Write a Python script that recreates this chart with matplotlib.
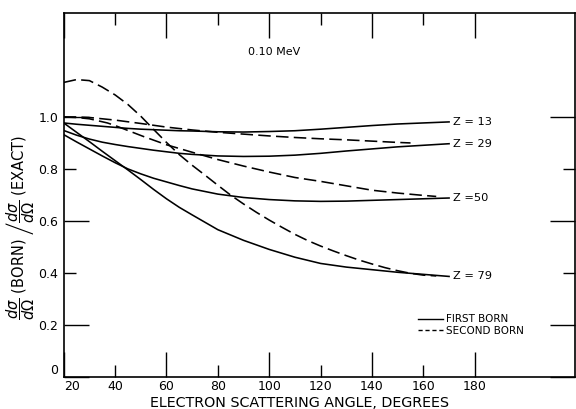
import matplotlib
matplotlib.use("Agg")
import matplotlib.pyplot as plt
from matplotlib.lines import Line2D

plt.rcParams['font.family'] = ['DejaVu Sans']
plt.rcParams['lines.scale_dashes'] = False

# First Born approximation / exact cross section ratios, 0.10 MeV electrons
angle_first = [20, 25, 30, 35, 40, 45, 50, 55, 60, 65, 70, 80, 90, 100, 110,
               120, 130, 140, 150, 160, 170]
first_z13 = [0.977, 0.972, 0.968, 0.964, 0.960, 0.956, 0.953, 0.951, 0.949,
             0.947, 0.946, 0.943, 0.942, 0.944, 0.947, 0.953, 0.960, 0.967,
             0.973, 0.977, 0.981]
first_z29 = [0.948, 0.930, 0.915, 0.903, 0.894, 0.886, 0.879, 0.872, 0.866,
             0.860, 0.856, 0.850, 0.848, 0.849, 0.853, 0.860, 0.869, 0.877,
             0.885, 0.891, 0.897]
first_z50 = [0.932, 0.904, 0.877, 0.850, 0.824, 0.800, 0.781, 0.764, 0.750,
             0.736, 0.723, 0.703, 0.690, 0.682, 0.677, 0.675, 0.676, 0.679,
             0.682, 0.685, 0.688]
first_z79 = [0.977, 0.941, 0.905, 0.868, 0.832, 0.796, 0.759, 0.721, 0.685,
             0.652, 0.623, 0.566, 0.525, 0.490, 0.460, 0.436, 0.422, 0.412,
             0.402, 0.394, 0.386]

# Second Born approximation / exact
angle_second_z13 = [20, 25, 30, 40, 50, 60, 70, 80, 90, 100, 110, 120, 130,
                    140, 150, 155]
second_z13 = [1.000, 1.000, 0.998, 0.988, 0.975, 0.961, 0.950, 0.941, 0.934,
              0.927, 0.921, 0.916, 0.912, 0.907, 0.902, 0.900]

angle_second_z50 = [20, 25, 30, 37, 40, 51, 60, 69, 80, 90, 100, 110, 120,
                    130, 140, 150, 160, 165]
second_z50 = [1.000, 0.998, 0.993, 0.977, 0.967, 0.925, 0.893, 0.867, 0.836,
              0.811, 0.788, 0.767, 0.752, 0.735, 0.718, 0.707, 0.698, 0.694]

angle_second_z79 = [20, 25, 30, 35, 40, 45, 50, 55, 60, 65, 70, 75, 80, 85,
                    90, 95, 100, 105, 110, 115, 120, 125, 130, 135, 140, 145,
                    150, 155, 160, 165]
second_z79 = [1.133, 1.144, 1.140, 1.115, 1.085, 1.048, 1.003, 0.952, 0.902,
              0.855, 0.814, 0.776, 0.737, 0.699, 0.665, 0.633, 0.603, 0.575,
              0.548, 0.524, 0.503, 0.484, 0.466, 0.449, 0.434, 0.420, 0.408,
              0.398, 0.391, 0.388]

curve_labels = ["Z = 13", "Z = 29", "Z =50", "Z = 79"]

x_long_ticks = [20, 60, 100, 140, 180]
x_short_ticks = [40, 80, 120, 160]
y_long_ticks = [0, 0.2, 0.6, 1.0]
y_short_ticks = [0.4, 0.8]

fig = plt.figure(figsize=(5.76, 4.09), dpi=100)
ax = fig.add_axes([0.1106, 0.079, 0.8876, 0.889])

lw = 1.15
dash = (0, (9, 3.8))
ax.plot(angle_first, first_z13, color='black', lw=lw)
ax.plot(angle_first, first_z29, color='black', lw=lw)
ax.plot(angle_first, first_z50, color='black', lw=lw)
ax.plot(angle_first, first_z79, color='black', lw=lw)
ax.plot(angle_second_z13, second_z13, color='black', lw=lw, linestyle=dash)
ax.plot(angle_second_z50, second_z50, color='black', lw=lw, linestyle=dash)
ax.plot(angle_second_z79, second_z79, color='black', lw=lw, linestyle=dash)

# curve labels at the right-hand ends of the first Born curves
for lab, ys in zip(curve_labels, [first_z13, first_z29, first_z50, first_z79]):
    ax.text(angle_first[-1] + 1.5, ys[-1], lab, fontsize=8.2,
            ha='left', va='center')

ax.text(102, 1.252, "0.10 MeV", fontsize=8, ha='center', va='center')

ax.set_xlim(20, 219)
ax.set_ylim(0, 1.4)

ax.set_xticks(x_long_ticks, [str(v) for v in x_long_ticks])
ax.set_xticks(x_short_ticks, [str(v) for v in x_short_ticks], minor=True)
ax.set_yticks(y_long_ticks, ["0", "0.2", "0.6", "1.0"])
ax.set_yticks(y_short_ticks, ["0.4", "0.8"], minor=True)

ax.tick_params(which='both', direction='in', top=True, right=True,
               width=1.0, labelsize=9)
ax.tick_params(axis='x', which='both', pad=2.5)
ax.tick_params(axis='y', which='both', pad=4)
ax.tick_params(which='major', length=18)
ax.tick_params(which='minor', length=8.6)

ax.get_xticklabels()[0].set_horizontalalignment('left')
ax.get_yticklabels()[0].set_verticalalignment('bottom')

for sp in ax.spines.values():
    sp.set_linewidth(1.2)

ax.set_xlabel("ELECTRON SCATTERING ANGLE, DEGREES", fontsize=10.3)
ax.xaxis.set_label_coords(0.462, -0.053)
ax.set_ylabel(r"$\dfrac{d\sigma}{d\Omega}$ (BORN) "
              r"$\left/\dfrac{d\sigma}{d\Omega}\right.$ (EXACT)", fontsize=10.5)
ax.yaxis.set_label_coords(-0.052, 0.4116)

handles = [Line2D([], [], color='black', lw=1.0),
           Line2D([], [], color='black', lw=1.0, linestyle=(0, (3, 2)))]
ax.legend(handles, ["FIRST BORN", "SECOND BORN"], loc='upper left',
          bbox_to_anchor=(0.693, 0.172), frameon=False, fontsize=7.5,
          handlelength=2.4, handletextpad=0.3, labelspacing=0.15,
          borderpad=0, borderaxespad=0)

fig.savefig("out.png", dpi=100, facecolor='white')
